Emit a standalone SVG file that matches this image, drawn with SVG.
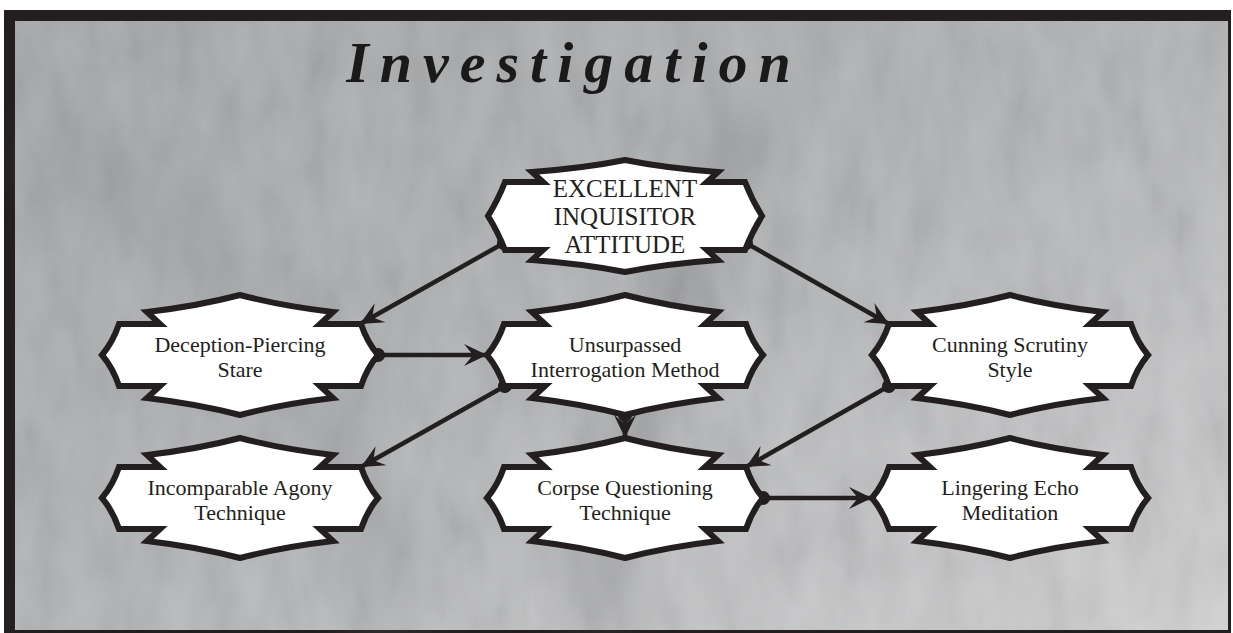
<svg xmlns="http://www.w3.org/2000/svg" width="1233" height="633" viewBox="0 0 1233 633">
<style>
.node path{fill:#ffffff;stroke:#231f20;stroke-width:6;stroke-linejoin:miter;stroke-miterlimit:10}
.lbl{font-family:"Liberation Serif","DejaVu Serif",serif;font-size:22px;fill:#231f20;text-anchor:middle}
.cap{font-family:"Liberation Serif","DejaVu Serif",serif;font-size:25px;fill:#231f20;text-anchor:middle}
.conn line{stroke:#231f20;stroke-width:4.5;marker-start:url(#dot);marker-end:url(#arr)}
</style>
<defs>
<linearGradient id="bg" x1="0" y1="0" x2="1" y2="1">
<stop offset="0" stop-color="#a3a5a8"/>
<stop offset="0.5" stop-color="#b1b2b4"/>
<stop offset="1" stop-color="#cfcfd0"/>
</linearGradient>
<filter id="noise" x="0" y="0" width="100%" height="100%">
<feTurbulence type="fractalNoise" baseFrequency="0.03 0.012" numOctaves="3" seed="7"/>
<feColorMatrix type="matrix" values="1 0 0 0 0  1 0 0 0 0  1 0 0 0 0  0 0 0 0 0.13"/>
</filter>
<filter id="blur" x="-50%" y="-50%" width="200%" height="200%">
<feGaussianBlur stdDeviation="25"/>
</filter>
<marker id="arr" markerUnits="userSpaceOnUse" viewBox="-24 -12 26 24" refX="0" refY="0" markerWidth="26" markerHeight="24" orient="auto">
<path d="M0,0 L-23,-11 L-14,0 L-23,11 Z" fill="#231f20"/>
</marker>
<marker id="dot" markerUnits="userSpaceOnUse" viewBox="-8 -8 16 16" refX="0" refY="0" markerWidth="16" markerHeight="16" orient="auto">
<circle cx="0" cy="0" r="7" fill="#231f20"/>
</marker>
<path id="shape" d="M0,-60 Q-42,-49 -93,-43 L-80,-31 L-121,-31 Q-127,-13 -138,0 Q-127,13 -121,31 L-80,31 L-93,43 Q-42,49 0,60 Q42,49 93,43 L80,31 L121,31 Q127,13 138,0 Q127,-13 121,-31 L80,-31 L93,-43 Q42,-49 0,-60 Z"/>
</defs>
<rect x="0" y="0" width="1233" height="633" fill="#ffffff"/>
<rect x="4" y="10" width="1227" height="623" fill="#231f20"/>
<rect x="15" y="21" width="1213" height="609" fill="url(#bg)"/>
<g>
<rect x="15" y="21" width="1213" height="609" filter="url(#noise)"/>
<path d="M760,110 C680,240 650,360 590,630" stroke="#6f7174" stroke-width="50" fill="none" opacity="0.3" filter="url(#blur)"/>
<path d="M40,140 C200,220 300,320 400,630" stroke="#8a8c8f" stroke-width="80" fill="none" opacity="0.25" filter="url(#blur)"/>
</g>
<text x="574" y="82" font-family="Liberation Serif, DejaVu Serif, serif" font-size="58" font-style="italic" font-weight="bold" letter-spacing="11" fill="#1a1a1a" text-anchor="middle">Investigation</text>
<g class="conn" id="connectors">
<line x1="504" y1="243" x2="360" y2="324"/>
<line x1="746" y1="243" x2="889" y2="324"/>
<line x1="378" y1="355" x2="487" y2="355"/>
<line x1="505" y1="386" x2="361" y2="467"/>
<line x1="625" y1="415" x2="625" y2="438"/>
<line x1="889" y1="386" x2="746" y2="467"/>
<line x1="763" y1="498" x2="872" y2="498"/>
</g>
<g class="node" id="n-excellent">
<path d="M625,160 Q585,168 532,172 L543,182 L505,182 Q498,200 488,216 Q498,232 505,250 L543,250 L532,260 Q585,264 625,272 Q665,264 718,260 L707,250 L745,250 Q752,232 762,216 Q752,200 745,182 L707,182 L718,172 Q665,168 625,160 Z"/>
<text class="cap" x="625" y="197">EXCELLENT</text>
<text class="cap" x="625" y="225">INQUISITOR</text>
<text class="cap" x="625" y="253">ATTITUDE</text>
</g>
<g class="node" id="n-deception">
<use href="#shape" x="240" y="355" fill="#ffffff" stroke="#231f20" stroke-width="6"/>
<text class="lbl" x="240" y="352">Deception-Piercing</text>
<text class="lbl" x="240" y="377">Stare</text>
</g>
<g class="node" id="n-unsurpassed">
<use href="#shape" x="625" y="355" fill="#ffffff" stroke="#231f20" stroke-width="6"/>
<text class="lbl" x="625" y="352">Unsurpassed</text>
<text class="lbl" x="625" y="377">Interrogation Method</text>
</g>
<g class="node" id="n-cunning">
<use href="#shape" x="1010" y="355" fill="#ffffff" stroke="#231f20" stroke-width="6"/>
<text class="lbl" x="1010" y="352">Cunning Scrutiny</text>
<text class="lbl" x="1010" y="377">Style</text>
</g>
<g class="node" id="n-incomparable">
<use href="#shape" x="240" y="498" fill="#ffffff" stroke="#231f20" stroke-width="6"/>
<text class="lbl" x="240" y="495">Incomparable Agony</text>
<text class="lbl" x="240" y="520">Technique</text>
</g>
<g class="node" id="n-corpse">
<use href="#shape" x="625" y="498" fill="#ffffff" stroke="#231f20" stroke-width="6"/>
<text class="lbl" x="625" y="495">Corpse Questioning</text>
<text class="lbl" x="625" y="520">Technique</text>
</g>
<g class="node" id="n-lingering">
<use href="#shape" x="1010" y="498" fill="#ffffff" stroke="#231f20" stroke-width="6"/>
<text class="lbl" x="1010" y="495">Lingering Echo</text>
<text class="lbl" x="1010" y="520">Meditation</text>
</g>
</svg>
